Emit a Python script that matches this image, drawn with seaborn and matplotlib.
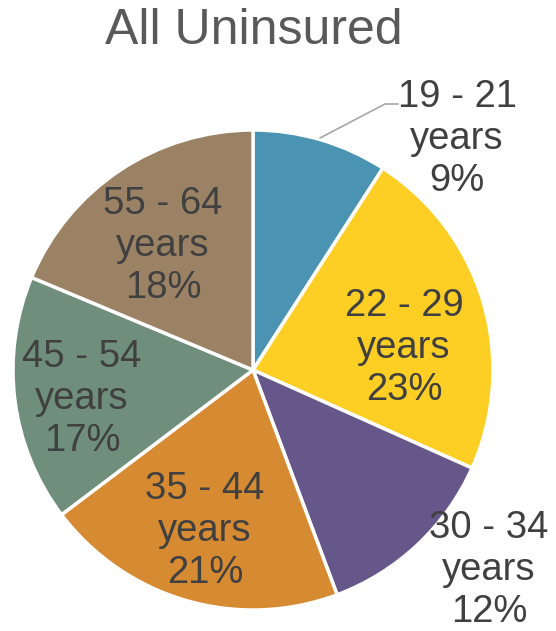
import numpy as np
import pandas as pd
import seaborn as sns
import matplotlib.pyplot as plt

sns.set_theme(style="white")
plt.rcParams['font.family'] = ['Liberation Sans', 'DejaVu Sans']

# data ########################################################################
groups = ["19 - 21", "22 - 29", "30 - 34", "35 - 44", "45 - 54", "55 - 64"]
shares = [9.1, 22.6, 12.6, 20.4, 16.6, 18.7]
shown = [9, 23, 12, 21, 17, 18]                 # what the labels say
colors = ["#4A93B3", "#FDCF24", "#66578B", "#D68A31", "#6F8E7C", "#9C8264"]

# where excel put the labels (pixel coords, y down)
label_pos = [(457, 139), (404, 348), (489, 570), (205, 531), (82, 399), (163, 246)]

W, H = 556, 631
fig = plt.figure(figsize=(W / 100, H / 100), dpi=100)
ax = fig.add_axes([0, 0, 1, 1])

cx, cy, r = 253, 370, 240
ax.pie(shares, colors=colors, startangle=90, counterclock=False,
       center=(cx, -cy), radius=r,
       wedgeprops=dict(edgecolor="white", linewidth=2.5), frame=False)
# pie draws with y up, flip it back
for p in ax.patches:
    p.set_transform(plt.matplotlib.transforms.Affine2D().scale(1, -1) + ax.transData)
ax.set_xlim(0, W)
ax.set_ylim(H, 0)
ax.set_aspect("equal")
ax.axis("off")

for g, s, (x, y) in zip(groups, shown, label_pos):
    ax.text(x, y, "{}\nyears\n{}%".format(g, s), ha="center", va="center",
            fontsize=27.5, color="#404040", linespacing=1.2)

# leader line for the small slice
ax.plot([320, 385, 398], [138, 104, 104], color="#A6A6A6", lw=1.2)

ax.text(W / 2 - 24, 31, "All Uninsured", ha="center", va="center",
        fontsize=36, color="#595959")

fig.savefig("out.png", dpi=100)
